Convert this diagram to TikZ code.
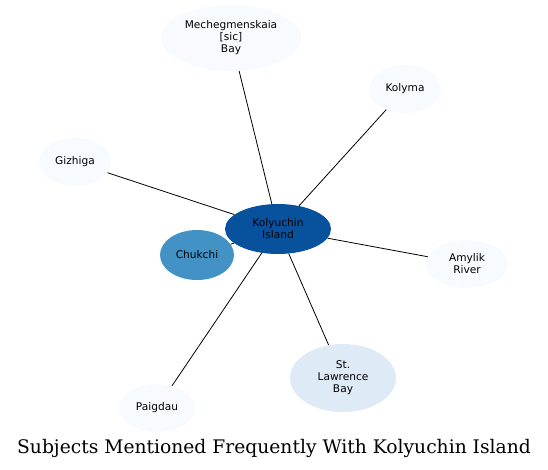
\documentclass[tikz,border=0pt]{standalone}
\usepackage{fontspec}
\usepackage{tikz}
\usetikzlibrary{shapes.geometric}
\newfontfamily\nodefont{DejaVu Sans}
\newfontfamily\titlefont{DejaVu Serif}
\definecolor{hubblue}{HTML}{08519C}
\definecolor{midblue}{HTML}{4292C6}
\definecolor{paleblue}{HTML}{DEEBF7}
\definecolor{faintblue}{HTML}{F7FBFF}

\begin{document}
\begin{tikzpicture}[
      x=1pt, y=-1pt,
      subj/.style={ellipse, draw=none, fill=faintblue, inner sep=0pt, align=center, font=\nodefont\fontsize{10.6}{12}\selectfont},
      link/.style={black, line width=0.8pt}
    ]
    \useasboundingbox (0,0) rectangle (548,469);
    \node[subj, fill=hubblue, minimum width=106pt, minimum height=50pt] (kol) at (278,229) {Kolyuchin\\Island};
    \node[subj, minimum width=140pt, minimum height=66pt] (mech) at (231,38) {Mechegmenskaia\\{[sic]}\\Bay};
    \node[subj, minimum width=72pt, minimum height=48pt] (kolyma) at (405,89) {Kolyma};
    \node[subj, minimum width=72pt, minimum height=48pt] (gizh) at (75,162) {Gizhiga};
    \node[subj, fill=midblue, minimum width=74pt, minimum height=50pt] (chuk) at (197,255) {Chukchi};
    \node[subj, minimum width=82pt, minimum height=48pt] (amyl) at (467,264) {Amylik\\River};
    \node[subj, fill=paleblue, minimum width=106pt, minimum height=68pt] (stl) at (343,378) {St.\\Lawrence\\Bay};
    \node[subj, minimum width=76pt, minimum height=48pt] (paig) at (157,408) {Paigdau};

    \draw[link] (kol) -- (mech);
    \draw[link] (kol) -- (kolyma);
    \draw[link] (kol) -- (gizh);
    \draw[link] (kol) -- (chuk);
    \draw[link] (kol) -- (amyl);
    \draw[link] (kol) -- (stl);
    \draw[link] (kol) -- (paig);

    \node[font=\titlefont\fontsize{18.7}{21}\selectfont] (title) at (274,448) {Subjects Mentioned Frequently With Kolyuchin Island};
  \end{tikzpicture}
\end{document}
